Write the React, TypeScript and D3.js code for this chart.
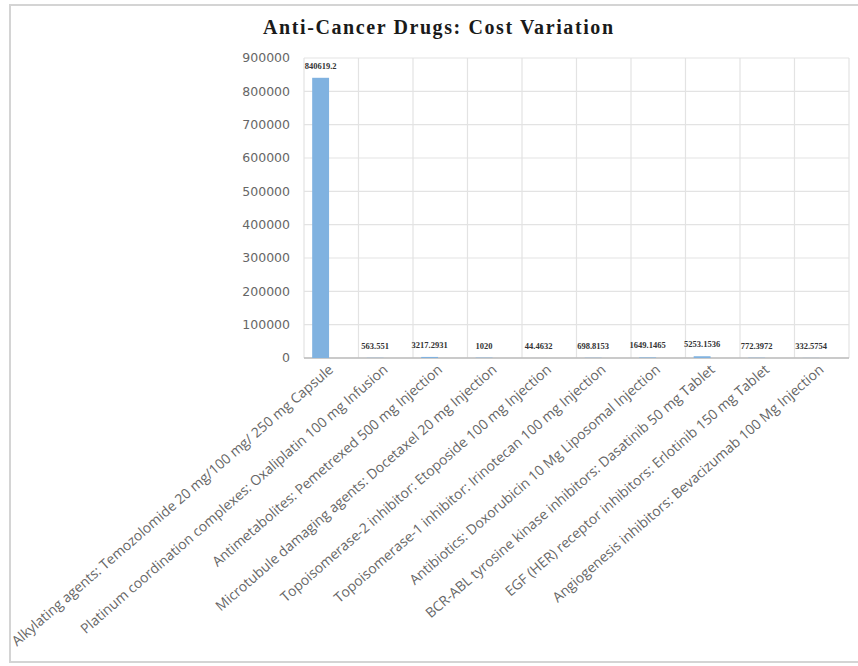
import React from "react";
import * as d3 from "d3";

const title = "Anti-Cancer Drugs: Cost Variation";

const categories = [
  "Alkylating agents: Temozolomide 20 mg/100 mg/ 250 mg Capsule",
  "Platinum coordination complexes: Oxaliplatin 100 mg Infusion",
  "Antimetabolites: Pemetrexed 500 mg Injection",
  "Microtubule damaging agents: Docetaxel 20 mg Injection",
  "Topoisomerase-2 inhibitor: Etoposide 100 mg Injection",
  "Topoisomerase-1 inhibitor: Irinotecan 100 mg Injection",
  "Antibiotics: Doxorubicin 10 Mg Liposomal Injection",
  "BCR-ABL tyrosine kinase inhibitors: Dasatinib 50 mg Tablet",
  "EGF (HER) receptor inhibitors: Erlotinib 150 mg Tablet",
  "Angiogenesis inhibitors: Bevacizumab 100 Mg Injection",
];

const costs = [840619.2, 563.551, 3217.2931, 1020, 44.4632, 698.8153, 1649.1465, 5253.1536, 772.3972, 332.5754];
const costLabels = ["840619.2", "563.551", "3217.2931", "1020", "44.4632", "698.8153", "1649.1465", "5253.1536", "772.3972", "332.5754"];
const yTicks = [0, 100000, 200000, 300000, 400000, 500000, 600000, 700000, 800000, 900000];

const W = 858;
const H = 666;
const plotLeft = 304;
const plotRight = 849;
const plotTop = 58;
const plotBottom = 358;

export default function App() {
  const x = d3.scaleBand<string>().domain(categories).range([plotLeft, plotRight]).padding(0);
  const y = d3.scaleLinear().domain([0, 900000]).range([plotBottom, plotTop]);
  const bw = x.bandwidth();
  const barOff = bw * 0.15;
  const barW = bw * 0.31;
  const gridColor = "#e3e3e3";
  const textGray = "#666666";

  return (
    <svg width={W} height={H} style={{ position: "absolute", left: 0, top: 0, background: "#fff" }}>
      {/* frame */}
      <path d={`M${W + 5},5 H10 V662 H${W + 5}`} fill="none" stroke="#d4d4d4" strokeWidth={2} />
      <text
        x={438}
        y={34}
        textAnchor="middle"
        fontFamily="'Liberation Serif', 'DejaVu Serif', serif"
        fontWeight="bold"
        fontSize={20}
        textLength={350}
        lengthAdjust="spacing"
        fill="#1a1a1a"
      >
        {title}
      </text>

      {/* horizontal gridlines */}
      {yTicks.map((t) => (
        <line key={"h" + t} x1={plotLeft} x2={plotRight} y1={y(t)} y2={y(t)} stroke={gridColor} strokeWidth={1.2} />
      ))}
      {/* vertical gridlines */}
      {categories.map((c) => (
        <line key={"v" + c} x1={x(c)! + bw} x2={x(c)! + bw} y1={plotTop} y2={plotBottom} stroke={gridColor} strokeWidth={1.2} />
      ))}
      <line x1={plotLeft} x2={plotLeft} y1={plotTop} y2={plotBottom} stroke={gridColor} strokeWidth={1.2} />
      {/* baseline */}
      <line x1={plotLeft} x2={plotRight} y1={plotBottom} y2={plotBottom} stroke="#bcbcbc" strokeWidth={1.5} />

      {/* y tick labels */}
      {yTicks.map((t) => (
        <text
          key={"yt" + t}
          x={290}
          y={y(t)}
          dy="0.35em"
          textAnchor="end"
          fontFamily="'DejaVu Sans', sans-serif"
          fontSize={12.5}
          fill={textGray}
        >
          {d3.format("d")(t)}
        </text>
      ))}

      {/* bars */}
      {categories.map((c, i) => (
        <rect key={"b" + i} x={x(c)! + barOff} y={y(costs[i])} width={barW} height={plotBottom - y(costs[i])} fill="#80b2e0" />
      ))}

      {/* data labels */}
      {categories.map((c, i) => (
        <text
          key={"dl" + i}
          x={x(c)! + barOff + barW / 2}
          y={y(costs[i]) - 9}
          textAnchor="middle"
          fontFamily="'Liberation Serif', serif"
          fontWeight="bold"
          fontSize={8.5}
          fill="#333"
        >
          {costLabels[i]}
        </text>
      ))}

      {/* x labels */}
      {categories.map((c) => {
        const cx = x(c)! + bw / 2 + 3;
        return (
          <text
            key={"xl" + c}
            transform={`translate(${cx},${plotBottom + 13}) rotate(-41)`}
            textAnchor="end"
            fontFamily="'Open Sans', sans-serif"
            fontSize={13.9}
            fill={textGray}
          >
            {c}
          </text>
        );
      })}
    </svg>
  );
}
